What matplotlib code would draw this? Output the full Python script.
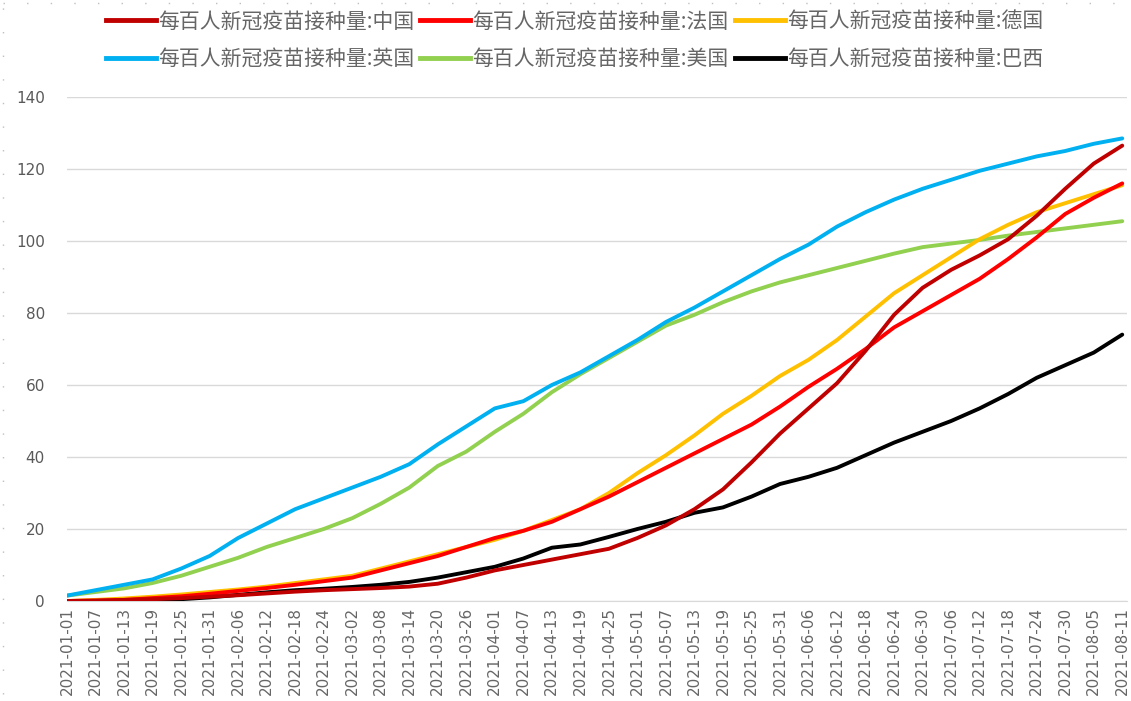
import numpy as np
import pandas as pd
import matplotlib
matplotlib.use('Agg')
import matplotlib.pyplot as plt
from matplotlib.lines import Line2D

plt.rcParams['font.family'] = ['Noto Sans CJK SC', 'DejaVu Sans']

# dates sampled every 6 days (same as the tick labels)
dates = pd.date_range('2021-01-01', '2021-08-11', freq='6D')
tick_labels = [d.strftime('%Y-%m-%d') for d in dates]

china = [0, 0.1, 0.3, 0.5, 0.8, 1.2, 1.6, 2.1, 2.6, 3.0, 3.3, 3.6, 4.0, 4.8,
         6.5, 8.5, 10, 11.5, 13, 14.5, 17.5, 21, 25.5, 31, 38.5, 46.5, 53.5,
         60.5, 69.5, 79.5, 87, 92, 96, 100.5, 107, 114.5, 121.5, 126.5]
france = [0, 0.1, 0.3, 0.8, 1.3, 2, 2.8, 3.6, 4.5, 5.5, 6.5, 8.5, 10.5, 12.5,
          15, 17.5, 19.5, 22, 25.5, 29, 33, 37, 41, 45, 49, 54, 59.5, 64.5,
          70, 76, 80.5, 85, 89.5, 95, 101, 107.5, 112, 116]
germany = [0, 0.3, 0.7, 1.2, 1.8, 2.5, 3.2, 4, 5, 6, 7, 9, 11, 13, 15, 17,
           19.5, 22.5, 25.5, 30, 35.5, 40.5, 46, 52, 57, 62.5, 67, 72.5, 79,
           85.5, 90.5, 95.5, 100.5, 104.5, 108, 110.5, 113, 115.5]
uk = [1.5, 3, 4.5, 6, 9, 12.5, 17.5, 21.5, 25.5, 28.5, 31.5, 34.5, 38, 43.5,
      48.5, 53.5, 55.5, 60, 63.5, 68, 72.5, 77.5, 81.5, 86, 90.5, 95, 99, 104,
      108, 111.5, 114.5, 117, 119.5, 121.5, 123.5, 125, 127, 128.5]
usa = [1.5, 2.5, 3.5, 5, 7, 9.5, 12, 15, 17.5, 20, 23, 27, 31.5, 37.5, 41.5,
       47, 52, 58, 63, 67.5, 72, 76.5, 79.5, 83, 86, 88.5, 90.5, 92.5, 94.5,
       96.5, 98.3, 99.3, 100.3, 101.5, 102.5, 103.5, 104.5, 105.5]
brazil = [np.nan, np.nan, np.nan, 0.1, 0.5, 1.0, 1.7, 2.4, 3.0, 3.4, 3.9, 4.5,
          5.3, 6.5, 8, 9.5, 11.8, 14.8, 15.7, 17.8, 20, 22, 24.5, 26, 29,
          32.5, 34.5, 37, 40.5, 44, 47, 50, 53.5, 57.5, 62, 65.5, 69, 74]

prefix = '每百人新冠疫苗接种量:'
series = [('中国', china, '#C00000'), ('法国', france, '#FF0000'),
          ('德国', germany, '#FFC000'), ('英国', uk, '#00B0F0'),
          ('美国', usa, '#92D050'), ('巴西', brazil, '#000000')]

fig = plt.figure(figsize=(11.31, 7.01), dpi=100)
ax = fig.add_axes([67 / 1131, 1 - 601 / 701, 1060 / 1131, 504 / 701])

days = (dates - dates[0]).days
# draw in reverse so China ends on top like the original
for name, vals, col in series[::-1]:
    ax.plot(days, vals, color=col, lw=2.8, solid_capstyle='round', zorder=3)

ax.set_xlim(0, 223)
ax.set_ylim(0, 140)
ax.set_yticks(range(0, 141, 20))
ax.set_xticks(days)
ax.set_xticklabels(tick_labels, rotation=90, fontsize=11, color='#666666',
                   family='DejaVu Sans')
ax.tick_params(axis='y', labelsize=11, labelcolor='#595959', length=0, pad=16)
ax.tick_params(axis='x', length=0, pad=4)
for lab in ax.get_yticklabels():
    lab.set_family('DejaVu Sans')
ax.grid(axis='y', color='#D9D9D9', lw=1)
ax.set_axisbelow(True)
for s in ['top', 'right', 'left']:
    ax.spines[s].set_visible(False)
ax.spines['bottom'].set_color('#D9D9D9')
ax.spines['bottom'].set_zorder(1)

# legend fills column by column, so reorder to get rows like the original
order = [0, 3, 1, 4, 2, 5]
handles = [Line2D([], [], color=series[i][2], lw=3.5) for i in order]
labels = [prefix + series[i][0] for i in order]
fig.legend(handles, labels, ncol=3, loc='upper center',
           bbox_to_anchor=(0.508, 1.012), frameon=False, fontsize=15,
           handlelength=2.4, handletextpad=0.1, columnspacing=0.3,
           labelspacing=0.75, labelcolor='#666666')

# dotted chart-area border on the left and top
fig.add_artist(Line2D([3 / 1131, 3 / 1131], [0.01, 1 - 3 / 701],
                      transform=fig.transFigure, color='#BFBFBF', lw=1,
                      ls=(0, (1, 16))))
fig.add_artist(Line2D([3 / 1131, 1120 / 1131], [1 - 3 / 701, 1 - 3 / 701],
                      transform=fig.transFigure, color='#BFBFBF', lw=1,
                      ls=(0, (1, 16))))

fig.savefig('out.png', dpi=100)
